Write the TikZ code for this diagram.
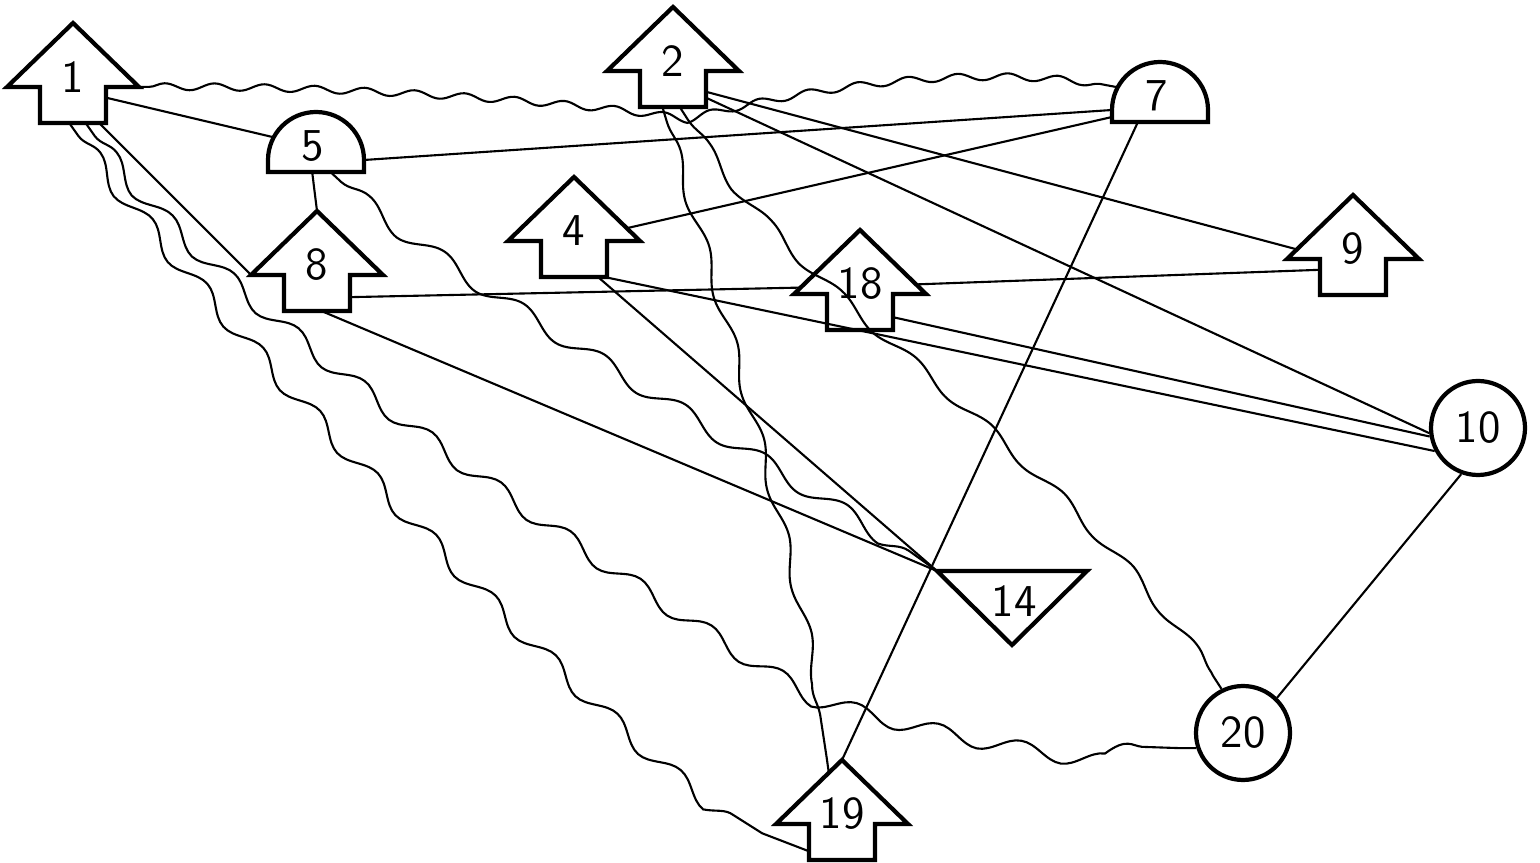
\documentclass[tikz,border=0pt]{standalone}
\usetikzlibrary{calc,decorations.pathmorphing}

\tikzset{
  shapeline/.style={line width=1.2pt},
  link/.style={line width=.6pt},
  wave/.style={link,decorate,decoration={snake,amplitude=.8mm,segment length=8.5mm,pre length=1.5mm,post length=1.5mm}},
  lazywave/.style={link,decorate,decoration={snake,amplitude=.5mm,segment length=10mm,pre length=1.5mm,post length=1.5mm}},
  flatwave/.style={link,decorate,decoration={snake,amplitude=.35mm,segment length=5mm,pre length=1mm,post length=1mm}},
  numlabel/.style={font=\sffamily\fontsize{13}{13}\selectfont,inner sep=0pt},
  stembox/.style={rectangle,inner sep=0pt,minimum width=6.6mm,minimum height=3.6mm},
  domearc/.style={circle,inner sep=0pt,minimum size=9.6mm},
  ring/.style={circle,draw,shapeline,numlabel,minimum size=9.4mm},
  % arrow pointing up, origin at the tip
  pics/uparrow/.style={code={
    \draw[shapeline] (0,0) -- (66,64) -- (33,64) -- (33,100) -- (-33,100) -- (-33,64) -- (-66,64) -- cycle;
    \node[stembox] (-s) at (0,82) {};
    \node[numlabel] (-l) at (0,54) {#1};
    \coordinate (-tip) at (0,0);
    \coordinate (-hl) at (-66,64);
    \coordinate (-hr) at (66,64);
  }},
  % half disc standing on its flat side, origin at the middle of the base
  pics/dome/.style={code={
    \draw[shapeline] (-48,0) -- (48,0) -- (48,-12) arc[start angle=0,end angle=-180,radius=48] -- cycle;
    \node[domearc] (-c) at (0,-12) {};
    \node[numlabel] (-l) at (-3,-26) {#1};
    \coordinate (-sw) at (-48,0);
    \coordinate (-se) at (48,0);
    \coordinate (-nw) at (-48,-12);
    \coordinate (-ne) at (48,-12);
    \coordinate (-w) at (-48,-5);
  }},
  % triangle pointing down, origin at the middle of the top side
  pics/downtri/.style={code={
    \draw[shapeline] (-75,0) -- (75,0) -- (0,74) -- cycle;
    \node[numlabel] (-l) at (2,30) {#1};
    \coordinate (-nw) at (-75,0);
    \coordinate (-ne) at (75,0);
    \coordinate (-s) at (0,74);
  }},
}

\begin{document}
\begin{tikzpicture}[x=.1mm,y=-.1mm]
  \useasboundingbox (0,0) rectangle (1540,863);

  \pic (a1) at (73,23) {uparrow=1};
  \pic (a2) at (673,7) {uparrow=2};
  \pic (a4) at (574,177) {uparrow=4};
  \pic (a8) at (317,211) {uparrow=8};
  \pic (a9) at (1353,195) {uparrow=9};
  \pic (a18) at (860,230) {uparrow=18};
  \pic (a19) at (842,760) {uparrow=19};
  \pic (d5) at (316,172) {dome=5};
  \pic (d7) at (1160,122) {dome=7};
  \pic (t14) at (1012,571) {downtri=14};
  \node[ring] (c10) at (1478,428) {10};
  \node[ring] (c20) at (1243,733) {20};

  % straight links
  \draw[link] (a1-s.12) -- (d5-c.152);
  \draw[link] (a1-s.-35) -- (a8-hl);
  \draw[link] ($(d5-sw)!.46!(d5-se)$) -- (a8-tip);
  \draw[link] (d5-ne) -- (d7-nw);
  \draw[link] ($(a4-tip)!.8!(a4-hr)$) -- (d7-w);
  \draw[link] ($(d7-sw)!.27!(d7-se)$) -- (a19-tip);
  \draw[link] (a2-s.-5) -- ($(a9-hl)!.15!(a9-tip)$);
  \draw[link] (a2-s.-15) -- (c10.186);
  \draw[link] (a8-s.-7) -- ($(a18-hl)!.1!(a18-tip)$);
  \draw[link] ($(a18-hr)!.15!(a18-tip)$) -- (a9-s.168);
  \draw[link] (a4-s.-37) -- (t14-nw);
  \draw[link] (a8-s.-72) -- (t14-nw);
  \draw[link] (a4-s.south east) -- (c10.208);
  \draw[link] (a18-s.-9) -- (c10.190);
  \draw[link] (c10.-110) -- (c20.46);

  % wavy links
  \draw[flatwave] (a1-hr) .. controls (300,85) and (560,100) .. (672,119)
    .. controls (760,95) and (950,55) .. (d7-c.152);
  \draw[wave,decoration={post length=5mm}] (a1-s.-100) .. controls (170,270) and (700,850) .. (a19-s.195);
  \draw[wave] (a1-s.-55) .. controls (190,280) and (600,560) .. (790,675)
    .. controls (900,710) and (1080,750) .. (c20.198);
  \draw[wave,decoration={segment length=9.5mm}] ($(d5-sw)!.65!(d5-se)$) .. controls (420,260) and (800,470) .. (t14-nw);
  \draw[lazywave] (a2-s.-119) .. controls (720,300) and (800,560) .. ($(a19-tip)!.2!(a19-hl)$);
  \draw[lazywave] (a2-s.-69) .. controls (800,300) and (1050,420) .. (c20.116);
\end{tikzpicture}
\end{document}
